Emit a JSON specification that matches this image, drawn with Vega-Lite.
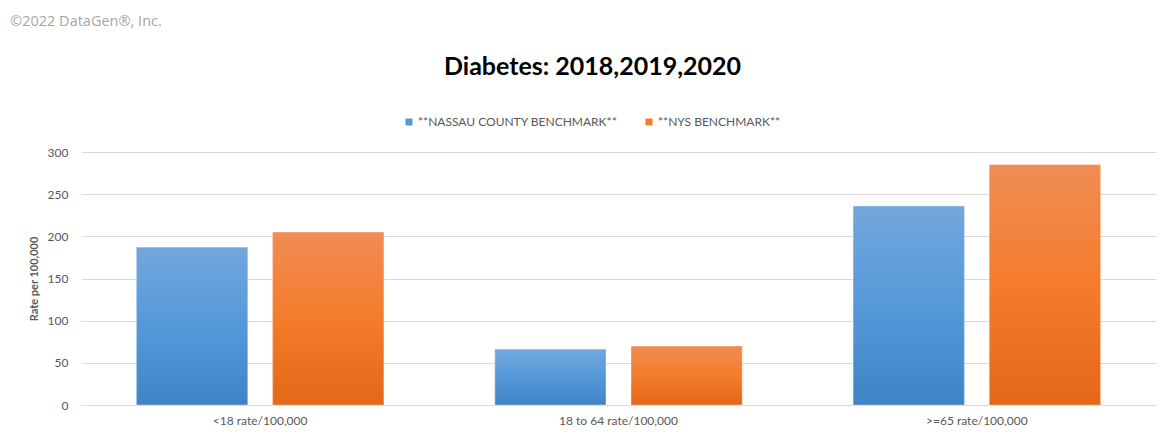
{
  "$schema": "https://vega.github.io/schema/vega-lite/v6.json",
  "background": "white",
  "padding": {"left": 10, "top": 13, "right": 15, "bottom": 8},
  "title": {"text": "©2022 DataGen®, Inc.", "anchor": "start", "frame": "bounds", "font": "Open Sans", "fontSize": 14.5, "fontWeight": "normal", "color": "#a6a6a6", "offset": 26, "dx": -18},
  "resolve": {"legend": {"fill": "independent"}, "scale": {"fill": "independent"}},
  "vconcat": [
    {
      "width": 1075,
      "height": 253,
      "title": {"text": "Diabetes: 2018,2019,2020", "font": "Lato", "fontSize": 25, "fontWeight": "bold", "color": "#000000", "anchor": "middle", "offset": 36, "dx": -26},
      "data": {
        "values": [
          {"group": "<18 rate/100,000", "series": "**NASSAU COUNTY BENCHMARK**", "rate": 187},
          {"group": "<18 rate/100,000", "series": "**NYS BENCHMARK**", "rate": 205},
          {"group": "18 to 64 rate/100,000", "series": "**NASSAU COUNTY BENCHMARK**", "rate": 66},
          {"group": "18 to 64 rate/100,000", "series": "**NYS BENCHMARK**", "rate": 70},
          {"group": ">=65 rate/100,000", "series": "**NASSAU COUNTY BENCHMARK**", "rate": 236},
          {"group": ">=65 rate/100,000", "series": "**NYS BENCHMARK**", "rate": 285}
        ]
      },
      "encoding": {
        "x": {
          "field": "group", "type": "nominal", "sort": null,
          "scale": {"paddingInner": 0.31, "paddingOuter": 0.155},
          "axis": {"title": null, "labelAngle": 0, "ticks": false, "domain": true, "domainColor": "#d9d9d9", "labelPadding": 10, "labelFont": "Lato", "labelFontSize": 12, "labelColor": "#595959", "grid": false}
        },
        "xOffset": {
          "field": "series", "type": "nominal",
          "scale": {"domain": ["**NASSAU COUNTY BENCHMARK**", "**NYS BENCHMARK**"], "paddingInner": 0.184, "paddingOuter": 0}
        },
        "y": {
          "field": "rate", "type": "quantitative",
          "scale": {"domain": [0, 300], "nice": false},
          "axis": {"title": "Rate per 100,000", "titleFont": "Lato", "titleFontSize": 11, "titleFontWeight": "bold", "titleColor": "#595959", "titlePadding": 8, "values": [0, 50, 100, 150, 200, 250, 300], "ticks": false, "domain": false, "labelPadding": 13, "labelFont": "Lato", "labelFontSize": 12, "labelColor": "#595959", "gridColor": "#d9d9d9", "gridWidth": 1}
        }
      },
      "layer": [
        {
          "mark": {"type": "bar"},
          "encoding": {
            "fill": {
              "field": "series", "type": "nominal",
              "scale": {"domain": ["**NASSAU COUNTY BENCHMARK**", "**NYS BENCHMARK**"], "range": ["#5599d9", "#f47c2a"]},
              "legend": {"title": null, "orient": "none", "legendX": 322, "legendY": -36, "direction": "horizontal", "symbolType": "square", "symbolSize": 49, "symbolStrokeWidth": 0, "labelFont": "Lato", "labelFontSize": 12, "labelColor": "#595959", "labelLimit": 400, "columnPadding": 25, "labelOffset": 3}
            }
          }
        },
        {
          "transform": [{"filter": "datum.series === '**NASSAU COUNTY BENCHMARK**'"}],
          "mark": {"type": "bar", "stroke": "#ffffff", "strokeOpacity": 0.35, "strokeWidth": 1,
            "fill": {"gradient": "linear", "x1": 0, "y1": 0, "x2": 0, "y2": 1, "stops": [{"offset": 0, "color": "#72a7dc"}, {"offset": 0.5, "color": "#5599d9"}, {"offset": 1, "color": "#3e84c4"}]}}
        },
        {
          "transform": [{"filter": "datum.series === '**NYS BENCHMARK**'"}],
          "mark": {"type": "bar", "stroke": "#ffffff", "strokeOpacity": 0.35, "strokeWidth": 1,
            "fill": {"gradient": "linear", "x1": 0, "y1": 0, "x2": 0, "y2": 1, "stops": [{"offset": 0, "color": "#f08c55"}, {"offset": 0.5, "color": "#f47c2a"}, {"offset": 1, "color": "#e36818"}]}}
        }
      ]
    }
  ],
  "config": {
    "view": {"stroke": null}
  }
}
